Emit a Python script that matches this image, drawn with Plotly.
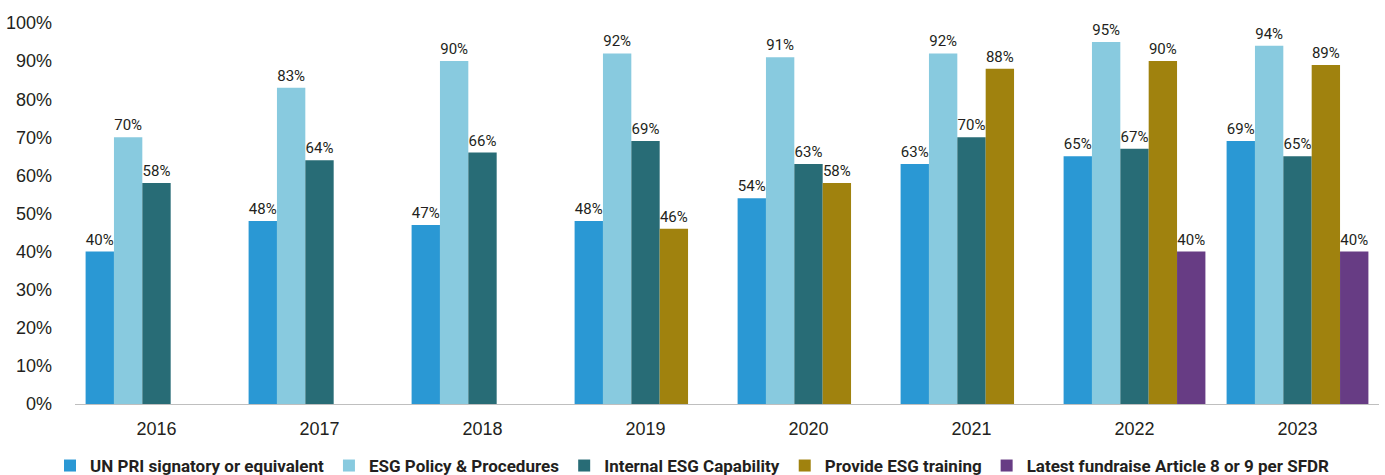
import plotly.graph_objects as go

years = ["2016", "2017", "2018", "2019", "2020", "2021", "2022", "2023"]

un_pri = [40, 48, 47, 48, 54, 63, 65, 69]
esg_policy = [70, 83, 90, 92, 91, 92, 95, 94]
internal_esg = [58, 64, 66, 69, 63, 70, 67, 65]
esg_training = [None, None, None, 46, 58, 88, 90, 89]
article_8_9 = [None, None, None, None, None, None, 40, 40]

series_names = [
    "UN PRI signatory or equivalent",
    "ESG Policy & Procedures",
    "Internal ESG Capability",
    "Provide ESG training",
    "Latest fundraise Article 8 or 9 per SFDR",
]
series_values = [un_pri, esg_policy, internal_esg, esg_training, article_8_9]
series_colors = ["#2a98d4", "#88cadf", "#286c76", "#a0820e", "#673c84"]

TEXT = "#231f20"
LABEL_FONT = "Roboto, sans-serif"
AXIS_FONT = "Liberation Sans, Arial, sans-serif"

fig = go.Figure()
for name, vals, color in zip(series_names, series_values, series_colors):
    fig.add_trace(go.Bar(
        x=years,
        y=vals,
        name=name,
        marker=dict(color=color, line=dict(width=0)),
        text=[f"{v}%" if v is not None else "" for v in vals],
        textposition="outside",
        textfont=dict(family=LABEL_FONT, size=15, color=TEXT),
        constraintext="none",
        cliponaxis=False,
    ))

fig.update_layout(
    width=1385,
    height=475,
    barmode="group",
    bargap=0.13,
    bargroupgap=0,
    plot_bgcolor="white",
    paper_bgcolor="white",
    margin=dict(l=75, r=6, t=23, b=71, autoexpand=False),
    font=dict(family=AXIS_FONT, color=TEXT),
    legend=dict(
        orientation="h",
        x=0.5,
        xanchor="center",
        xref="container",
        y=0.019,
        yref="container",
        yanchor="middle",
        font=dict(family=LABEL_FONT, size=17, color=TEXT, weight="bold"),
        itemclick=False,
        traceorder="normal",
    ),
    xaxis=dict(
        showline=True,
        linecolor="#bfbfbf",
        linewidth=1,
        showgrid=False,
        ticks="",
        ticklabelstandoff=8,
        tickfont=dict(family=AXIS_FONT, size=18, color=TEXT),
    ),
    yaxis=dict(
        range=[0, 100],
        dtick=10,
        ticksuffix="%",
        showgrid=False,
        zeroline=False,
        showline=False,
        ticks="",
        ticklabelstandoff=22,
        tickfont=dict(family=AXIS_FONT, size=18, color=TEXT),
    ),
)

fig.write_html("out.html")
